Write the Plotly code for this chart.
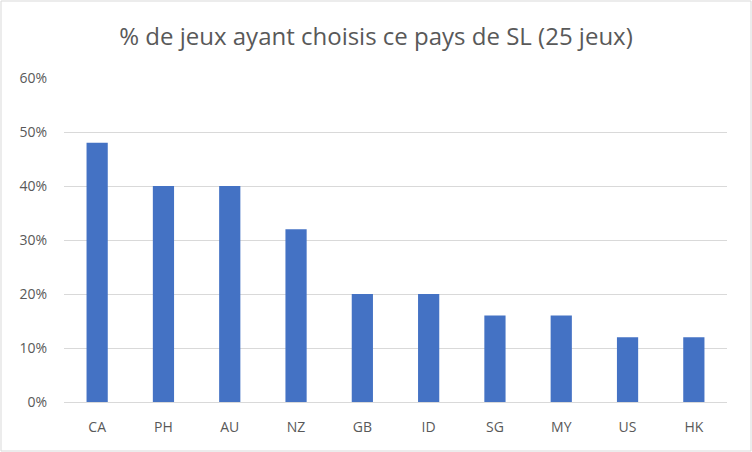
import plotly.graph_objects as go

# Pays de service live et part des jeux (sur 25) les ayant choisis
pays = ["CA", "PH", "AU", "NZ", "GB", "ID", "SG", "MY", "US", "HK"]
parts = [0.48, 0.40, 0.40, 0.32, 0.20, 0.20, 0.16, 0.16, 0.12, 0.12]
y_ticks = [0, 0.1, 0.2, 0.3, 0.4, 0.5, 0.6]
y_labels = ["0%", "10%", "20%", "30%", "40%", "50%", "60%"]

W, H = 752, 452
ml, mr, mt, mb = 64, 25, 78, 50
pw, ph = W - ml - mr, H - mt - mb

fig = go.Figure(go.Bar(x=pays, y=parts, marker_color="#4472C4", marker_line_width=0))

fig.update_layout(
    width=W, height=H,
    margin=dict(l=ml, r=mr, t=mt, b=mb),
    paper_bgcolor="white", plot_bgcolor="white",
    bargap=0.68,
    showlegend=False,
    font=dict(family="Open Sans, Noto Sans, sans-serif", color="#595959"),
    title=dict(text="% de jeux ayant choisis ce pays de SL (25 jeux)",
               x=0.5, xref="container", y=1 - 37 / H, yanchor="middle",
               font=dict(size=24, color="#595959")),
)
fig.update_xaxes(showline=True, linecolor="#D9D9D9", linewidth=1,
                 ticks="", tickfont=dict(size=14), showgrid=False,
                 ticklabelstandoff=12)
fig.update_yaxes(range=[0, 0.6], tickvals=y_ticks, ticktext=y_labels,
                 showgrid=True, gridcolor="#D9D9D9", gridwidth=1,
                 zeroline=False, showline=False, ticks="",
                 tickfont=dict(size=14), ticklabelstandoff=16)

# cadre du graphique
fig.add_shape(type="rect", xref="paper", yref="paper",
              x0=-(ml - 1) / pw, x1=1 + (mr - 1) / pw,
              y0=-(mb - 1) / ph, y1=1 + (mt - 1) / ph,
              line=dict(color="#D9D9D9", width=1))

# pas de marge de page autour du graphique
fig.write_html("out.html", config={"displayModeBar": False},
               post_script="document.body.style.margin='0';document.body.style.overflow='hidden';")
